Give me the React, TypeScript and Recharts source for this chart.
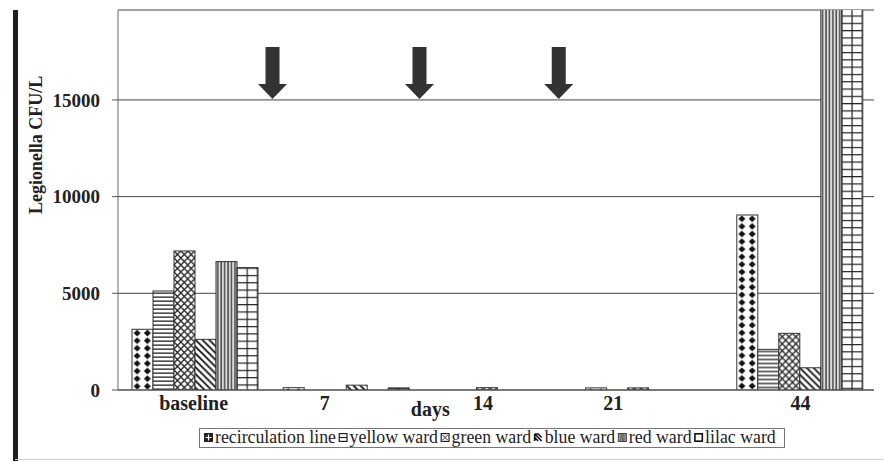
import React from "react";
import {
  BarChart,
  Bar,
  XAxis,
  YAxis,
  CartesianGrid,
  ReferenceDot,
} from "recharts";

const categories = ["baseline", "7", "14", "21", "44"];
const recirculationLine = [3140, 120, 0, 110, 9050];
const yellowWard = [5120, 0, 0, 0, 2100];
const greenWard = [7190, 0, 120, 110, 2930];
const blueWard = [2620, 250, 0, 0, 1150];
const redWard = [6640, 0, 0, 0, 21000];
const lilacWard = [6330, 110, 0, 0, 20500];
const yTicks = [0, 5000, 10000, 15000];
// arrow positions expressed in category-band units (0 = left edge of "baseline", 5 = right edge of "44")
const arrowBands = [1.022, 1.994, 2.915];
const arrowValue = 15000;

const seriesNames = [
  "recirculation line",
  "yellow ward",
  "green ward",
  "blue ward",
  "red ward",
  "lilac ward",
];
const seriesKeys = ["recirc", "yellow", "green", "blue", "red", "lilac"];
const seriesValues = [recirculationLine, yellowWard, greenWard, blueWard, redWard, lilacWard];

const data = categories.map((c, i) => {
  const row: any = { category: c };
  seriesKeys.forEach((k, j) => (row[k] = seriesValues[j][i]));
  return row;
});

const tickShift = [0, -20, -13, -34, 2];
const FONT = '"Liberation Serif", "Times New Roman", serif';

const XTick = (props: any) => {
  const { x, y, payload } = props;
  const idx = payload.index ?? categories.indexOf(payload.value);
  return (
    <text
      x={x + (tickShift[idx] || 0)}
      y={y}
      dy="0.71em"
      textAnchor="middle"
      fontFamily={FONT}
      fontWeight="bold"
      fontSize={20}
      fill="#222"
    >
      {payload.value}
    </text>
  );
};

const ArrowShape = (props: any) => {
  const { cx, cy } = props;
  if (cx == null || cy == null) return null;
  const pts = [
    [cx - 7, cy - 53],
    [cx + 7, cy - 53],
    [cx + 7, cy - 16],
    [cx + 14.5, cy - 16],
    [cx, cy - 1],
    [cx - 14.5, cy - 16],
    [cx - 7, cy - 16],
  ]
    .map((p) => p.join(","))
    .join(" ");
  return <polygon points={pts} fill="#333" />;
};

const YLabel = (props: any) => {
  const vb = props.viewBox || {};
  const cx = 36;
  const cy = (vb.y ?? 10) + (vb.height ?? 380) * 0.355;
  return (
    <text
      x={cx}
      y={cy}
      transform={`rotate(-90 ${cx} ${cy})`}
      textAnchor="middle"
      dy="0.35em"
      fontFamily={FONT}
      fontWeight="bold"
      fontSize={18}
      fill="#222"
      textLength={138}
      lengthAdjust="spacingAndGlyphs"
    >
      Legionella CFU/L
    </text>
  );
};

const XLabel = (props: any) => {
  const vb = props.viewBox || {};
  const x = (vb.x ?? 118) + (vb.width ?? 756) * 0.413;
  const y = (vb.y ?? 390) + 26;
  return (
    <text
      x={x}
      y={y}
      textAnchor="middle"
      fontFamily={FONT}
      fontWeight="bold"
      fontSize={20}
      fill="#222"
    >
      days
    </text>
  );
};

const Patterns = () => (
  <defs>
    <pattern id="p-recirc" patternUnits="userSpaceOnUse" width="10.26" height="7.6">
      <rect width="10.26" height="7.6" fill="#fff" />
      <polygon points="5.13,0.4 8.6,3.8 5.13,7.2 1.66,3.8" fill="#111" />
    </pattern>
    <pattern id="p-yellow" patternUnits="userSpaceOnUse" width="4" height="4">
      <rect width="4" height="4" fill="#fff" />
      <rect x="0" y="1.5" width="4" height="1.3" fill="#222" />
    </pattern>
    <pattern id="p-green" patternUnits="userSpaceOnUse" width="6.84" height="7">
      <rect width="6.84" height="7" fill="#fff" />
      <path d="M0,0 L6.84,7 M6.84,0 L0,7" stroke="#222" strokeWidth="1.3" />
    </pattern>
    <pattern id="p-blue" patternUnits="userSpaceOnUse" width="6.84" height="6.84">
      <rect width="6.84" height="6.84" fill="#fff" />
      <path d="M-1,-1 L7.84,7.84 M-1,5.84 L1,7.84 M5.84,-1 L7.84,1" stroke="#111" strokeWidth="1.8" />
    </pattern>
    <pattern id="p-red" patternUnits="userSpaceOnUse" width="3.42" height="4">
      <rect width="3.42" height="4" fill="#dcdcdc" />
      <rect x="1.2" y="0" width="1.2" height="4" fill="#2a2a2a" />
    </pattern>
    <pattern id="p-lilac" patternUnits="userSpaceOnUse" width="10.26" height="7.3">
      <rect width="10.26" height="7.3" fill="#fff" />
      <rect x="0" y="0" width="10.26" height="1.2" fill="#222" />
      <rect x="-0.6" y="0" width="1.2" height="7.3" fill="#222" />
      <rect x="9.66" y="0" width="1.2" height="7.3" fill="#222" />
    </pattern>
  </defs>
);

const makeShape = (k: string) => (props: any) => {
  const { x, y, width, height } = props;
  if (!width || !height || height <= 0) return <g />;
  return (
    <g>
      <svg x={x} y={y} width={width} height={height} overflow="hidden">
        <rect x={0} y={0} width={width} height={height} fill={`url(#p-${k})`} />
      </svg>
      <rect x={x} y={y} width={width} height={height} fill="none" stroke="#333" strokeWidth={1} />
    </g>
  );
};

const LegendIcon = ({ k, x, y }: { k: string; x: number; y: number }) => {
  const s = 9;
  let inner: any = null;
  if (k === "recirc")
    inner = (
      <>
        <rect x="0" y="0" width={s} height={s} fill="#222" />
        <path d="M4.5,1.5 L4.5,7.5 M1.5,4.5 L7.5,4.5" stroke="#fff" strokeWidth="1.2" />
      </>
    );
  else if (k === "yellow")
    inner = (
      <>
        <rect x="0.6" y="0.6" width={s - 1.2} height={s - 1.2} fill="#fff" stroke="#222" strokeWidth="1.2" />
        <path d="M0.6,4.5 L8.4,4.5" stroke="#222" strokeWidth="1.2" />
      </>
    );
  else if (k === "green")
    inner = (
      <>
        <rect x="0.6" y="0.6" width={s - 1.2} height={s - 1.2} fill="#fff" stroke="#222" strokeWidth="1.2" />
        <path d="M2,2 L7,7 M7,2 L2,7" stroke="#222" strokeWidth="1" />
      </>
    );
  else if (k === "blue")
    inner = (
      <>
        <path d="M1,1 L8,8 M1,1 L1,8 M1,4.5 L4.5,8 M4.5,1 L8,4.5 M1,1 L5,1" stroke="#111" strokeWidth="1.6" />
      </>
    );
  else if (k === "red")
    inner = (
      <>
        <rect x="0.5" y="0.5" width={s - 1} height={s - 1} fill="#999" stroke="#444" strokeWidth="1" />
        <path d="M3,1 L3,8 M4.5,1 L4.5,8 M6,1 L6,8" stroke="#555" strokeWidth="0.8" />
      </>
    );
  else
    inner = (
      <rect x="0.8" y="0.8" width={s - 1.6} height={s - 1.6} fill="#fff" stroke="#111" strokeWidth="1.6" />
    );
  return <g transform={`translate(${x},${y})`}>{inner}</g>;
};

const legendFont = 17.8;
const charW: Record<string, number> = {
  r: 0.333, e: 0.444, c: 0.444, i: 0.278, u: 0.5, l: 0.278, a: 0.444, t: 0.278,
  o: 0.5, n: 0.5, " ": 0.25, y: 0.5, w: 0.722, d: 0.5, g: 0.5, b: 0.5,
};
const textW = (s: string) =>
  s.split("").reduce((acc, ch) => acc + (charW[ch] ?? 0.5), 0) * legendFont;

const LegendBox = () => {
  let cx = 204;
  const items = seriesKeys.map((k, j) => {
    const ix = cx;
    const tx = ix + 11;
    const w = textW(seriesNames[j]);
    cx = tx + w + 2.5;
    return (
      <g key={k}>
        <LegendIcon k={k} x={ix} y={6} />
        <text x={tx} y={16} fontFamily={FONT} fontSize={legendFont} fill="#222">
          {seriesNames[j]}
        </text>
      </g>
    );
  });
  return (
    <svg
      width={588}
      height={22}
      style={{ position: "absolute", left: 198, top: 427 }}
      viewBox="198 0 588 22"
    >
      <rect x={199.5} y={1.5} width={585} height={19} fill="#fff" stroke="#777" strokeWidth={1} />
      {items}
    </svg>
  );
};

export default function App() {
  return (
    <div
      style={{
        position: "absolute",
        left: 0,
        top: 0,
        width: 884,
        height: 462,
        background: "#fff",
        overflow: "hidden",
        fontFamily: FONT,
      }}
    >
      <div
        style={{
          position: "absolute",
          left: 13,
          top: 10,
          width: 5,
          height: 451,
          background: "#1e1e1e",
        }}
      />
      <div
        style={{
          position: "absolute",
          left: 15,
          top: 459,
          width: 869,
          height: 1,
          background: "#ccc",
        }}
      />
      <div style={{ position: "absolute", left: 0, top: 0 }}>
        <BarChart
          width={884}
          height={462}
          data={data}
          margin={{ top: 10, right: 10, bottom: 42, left: 0 }}
          barCategoryGap={14}
          barGap={0}
        >
          <Patterns />
          <CartesianGrid horizontal vertical={false} stroke="#444" strokeWidth={1} />
          <XAxis
            dataKey="category"
            tickLine={false}
            tickSize={0}
            tickMargin={6}
            axisLine={{ stroke: "#555", strokeWidth: 1.2 }}
            tick={<XTick />}
            interval={0}
            label={<XLabel />}
          />
          <XAxis
            xAxisId="arrow"
            type="number"
            domain={[0, 4]}
            allowDataOverflow
            hide
          />
          <YAxis
            width={118}
            domain={[0, 19650]}
            allowDataOverflow
            ticks={yTicks}
            interval={0}
            tickSize={6}
            tickMargin={12}
            tickLine={{ stroke: "#555" }}
            axisLine={{ stroke: "#666" }}
            tick={{ fontFamily: FONT, fontWeight: "bold", fontSize: 19, fill: "#222" }}
            label={<YLabel />}
          />
          <YAxis
            yAxisId="r"
            orientation="right"
            width={0}
            tick={false}
            tickLine={false}
            axisLine={{ stroke: "#888" }}
            domain={[0, 19650]}
          />
          {seriesKeys.map((k, j) => (
            <Bar
              key={k}
              dataKey={k}
              name={seriesNames[j]}
              fill={`url(#p-${k})`}
              stroke="#333"
              shape={makeShape(k)}
              isAnimationActive={false}
            />
          ))}
          {arrowBands.map((b, i) => (
            <ReferenceDot
              key={i}
              xAxisId="arrow"
              x={(b * 4) / 5}
              y={arrowValue}
              r={0}
              shape={ArrowShape}
              ifOverflow="visible"
            />
          ))}
        </BarChart>
      </div>
      <LegendBox />
    </div>
  );
}
